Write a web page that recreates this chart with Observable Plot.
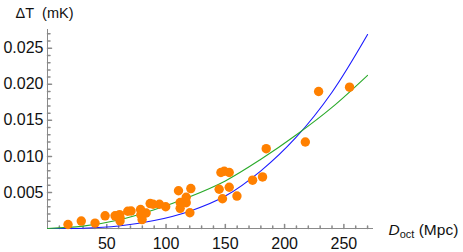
<!DOCTYPE html>
<html>
<head>
<meta charset="utf-8">
<script src="https://cdn.jsdelivr.net/npm/d3@7"></script>
<script src="https://cdn.jsdelivr.net/npm/@observablehq/plot@0.6"></script>
<style>
  html, body { margin: 0; padding: 0; background: #fff; }
  svg { display: block; }
</style>
</head>
<body>
<div id="chart"></div>
<script>
// Measured points: distance D_oct (Mpc) and ΔT (mK)
const dist = [17.3, 28.5, 40.1, 48.6, 57.0, 60.8, 61.2, 61.2, 67.7, 70.5, 78.5, 78.7, 79.8, 83.2, 86.6, 89.1, 94.4, 99.7, 110.5, 111.9, 111.9, 117.0, 117.0, 120.1, 120.9, 144.8, 146.3, 149.1, 153.3, 147.6, 153.3, 159.8, 173.0, 181.4, 184.5, 217.5, 228.7, 254.8];
const dT = [0.00056, 0.00103, 0.00075, 0.00176, 0.00176, 0.00193, 0.00151, 0.00104, 0.00239, 0.00243, 0.00263, 0.00190, 0.00124, 0.00215, 0.00346, 0.00336, 0.00336, 0.00301, 0.00524, 0.00360, 0.00280, 0.00433, 0.00358, 0.00218, 0.00554, 0.00544, 0.00776, 0.00794, 0.00776, 0.00413, 0.00572, 0.00450, 0.00670, 0.00715, 0.01107, 0.01200, 0.01900, 0.01960];

// Model curves
const fitX = [0, 30, 60, 90, 120, 150, 180, 210, 240, 270];
const blueFit = [0, 0.00004, 0.00035, 0.0011, 0.0024, 0.0045, 0.0080, 0.0127, 0.0189, 0.0269];
const greenFit = [0, 0.00033, 0.00118, 0.0026, 0.0044, 0.0066, 0.0096, 0.0130, 0.0168, 0.02125];

// Ticks
const xMajor = [50, 100, 150, 200, 250];
const xMinor = [10, 20, 30, 40, 60, 70, 80, 90, 110, 120, 130, 140, 160, 170, 180, 190, 210, 220, 230, 240, 260, 270];
const yMajor = [0.005, 0.010, 0.015, 0.020, 0.025];
const yMinor = [0.001, 0.002, 0.003, 0.004, 0.006, 0.007, 0.008, 0.009, 0.011, 0.012, 0.013, 0.014, 0.016, 0.017, 0.018, 0.019, 0.021, 0.022, 0.023, 0.024, 0.026, 0.027];

const yLabel = "ΔT\u00a0\u00a0(mK)";
const xLabelParts = ["D", "oct", "\u00a0(Mpc)"];

const pts = dist.map((d, i) => ({d, t: dT[i]}));
const blue = fitX.map((x, i) => ({x, y: blueFit[i]}));
const green = fitX.map((x, i) => ({x, y: greenFit[i]}));

const axisColor = "#8a8a8a";
const up = {draw(ctx, l) { ctx.moveTo(0, 0); ctx.lineTo(0, -l); }};
const right = {draw(ctx, l) { ctx.moveTo(0, 0); ctx.lineTo(l, 0); }};

const chart = Plot.plot({
  width: 463,
  height: 252,
  marginLeft: 47,
  marginRight: 90,
  marginTop: 29,
  marginBottom: 24,
  style: {fontFamily: "'Liberation Sans', Arial, sans-serif", background: "#fff"},
  x: {domain: [0, 275]},
  y: {domain: [0, 0.0276]},
  marks: [
    Plot.ruleY([0], {stroke: axisColor, strokeWidth: 1}),
    Plot.ruleX([0], {stroke: axisColor, strokeWidth: 1}),
    Plot.vector(xMajor, {x: d => d, y: 0, length: 4, anchor: "start", shape: up, stroke: axisColor}),
    Plot.vector(xMinor, {x: d => d, y: 0, length: 2.5, anchor: "start", shape: up, stroke: axisColor}),
    Plot.vector(yMajor, {x: 0, y: d => d, length: 4, anchor: "start", shape: right, stroke: axisColor}),
    Plot.vector(yMinor, {x: 0, y: d => d, length: 2.5, anchor: "start", shape: right, stroke: axisColor}),
    Plot.axisX({ticks: xMajor, tickSize: 0, tickPadding: 9, fontSize: 16, fill: "#111", label: null, tickFormat: d => String(d)}),
    Plot.axisY({ticks: yMajor, tickSize: 0, tickPadding: 4, fontSize: 16, fill: "#111", label: null, tickFormat: d3.format(".3f")}),
    Plot.line(blue, {x: "x", y: "y", stroke: "#1a1aff", strokeWidth: 1.1, curve: "catmull-rom"}),
    Plot.line(green, {x: "x", y: "y", stroke: "#2aaa2a", strokeWidth: 1.1, curve: "catmull-rom"}),
    Plot.dot(pts, {x: "d", y: "t", r: 4.7, fill: "#ff8000", stroke: "none"}),
    Plot.text([yLabel], {text: d => d, frameAnchor: "top-left", dx: -32, dy: -12, textAnchor: "start", lineAnchor: "bottom", fontSize: 14.5, fill: "#111"}),
    Plot.text([xLabelParts.join("")], {text: d => d, frameAnchor: "bottom-right", dx: 15, dy: 6, textAnchor: "start", lineAnchor: "bottom", fontSize: 15.5, fill: "#111"})
  ]
});

// Render the subscript in the x label as tspans
chart.querySelectorAll("text").forEach(t => {
  if (t.textContent === xLabelParts.join("")) {
    t.textContent = "";
    const ns = "http://www.w3.org/2000/svg";
    const a = document.createElementNS(ns, "tspan");
    a.setAttribute("font-style", "italic");
    a.textContent = xLabelParts[0];
    const b = document.createElementNS(ns, "tspan");
    b.setAttribute("font-size", "11");
    b.setAttribute("dy", "3");
    b.textContent = xLabelParts[1];
    const c = document.createElementNS(ns, "tspan");
    c.setAttribute("dy", "-3");
    c.textContent = xLabelParts[2];
    t.append(a, b, c);
  }
});

document.getElementById("chart").appendChild(chart);
</script>
</body>
</html>
